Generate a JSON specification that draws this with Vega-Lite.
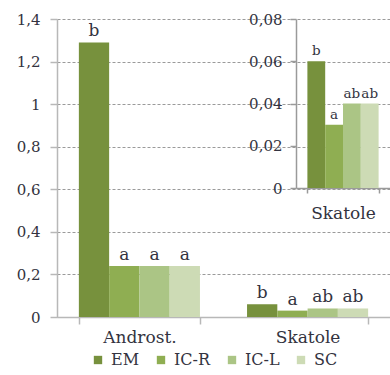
{
  "$schema": "https://vega.github.io/schema/vega-lite/v6.json",
  "width": 333,
  "height": 298,
  "autosize": "none",
  "padding": {"left": 57, "top": 19, "right": 0, "bottom": 58},
  "background": "white",
  "config": {
    "view": {"stroke": null},
    "font": "DejaVu Serif",
    "text": {"font": "DejaVu Serif"},
    "axis": {"labelFont": "DejaVu Serif", "labelColor": "#333340", "title": null, "domainColor": "#b8b8b8", "tickColor": "#b8b8b8", "domainWidth": 1.5, "tickWidth": 1.5},
    "legend": {"labelFont": "DejaVu Serif", "labelColor": "#333340"}
  },
  "datasets": {
    "main": [
      {"group": "Androst.", "series": "EM", "value": 1.29, "letter": "b"},
      {"group": "Androst.", "series": "IC-R", "value": 0.24, "letter": "a"},
      {"group": "Androst.", "series": "IC-L", "value": 0.24, "letter": "a"},
      {"group": "Androst.", "series": "SC", "value": 0.24, "letter": "a"},
      {"group": "Skatole", "series": "EM", "value": 0.06, "letter": "b"},
      {"group": "Skatole", "series": "IC-R", "value": 0.03, "letter": "a"},
      {"group": "Skatole", "series": "IC-L", "value": 0.04, "letter": "ab"},
      {"group": "Skatole", "series": "SC", "value": 0.04, "letter": "ab"}
    ],
    "inset": [
      {"group": "Skatole", "series": "EM", "value": 0.06, "letter": "b"},
      {"group": "Skatole", "series": "IC-R", "value": 0.03, "letter": "a"},
      {"group": "Skatole", "series": "IC-L", "value": 0.04, "letter": "ab"},
      {"group": "Skatole", "series": "SC", "value": 0.04, "letter": "ab"}
    ]
  },
  "layer": [
    {
      "data": {"name": "main"},
      "encoding": {
        "x": {"field": "group", "type": "nominal", "sort": ["Androst.", "Skatole"],
          "scale": {"paddingInner": 0.28, "paddingOuter": 0.13},
          "axis": {"labelAngle": 0, "labelFontSize": 17, "tickBand": "extent", "tickSize": 7, "labelPadding": 5}},
        "xOffset": {"field": "series", "type": "nominal", "sort": ["EM", "IC-R", "IC-L", "SC"], "scale": {"paddingInner": 0, "paddingOuter": 0}},
        "y": {"field": "value", "type": "quantitative",
          "scale": {"domain": [0, 1.4], "nice": false},
          "axis": {"values": [0, 0.2, 0.4, 0.6, 0.8, 1, 1.2, 1.4], "labelExpr": "replace(format(datum.value, '.1~f'), '.', ',')",
            "labelFontSize": 15, "labelPadding": 10, "tickSize": 7, "grid": true, "gridDash": [3, 2], "gridColor": "#9a9a9a", "gridWidth": 1}}
      },
      "layer": [
        {"mark": {"type": "bar"},
         "encoding": {"color": {"field": "series", "type": "nominal", "sort": ["EM", "IC-R", "IC-L", "SC"],
           "scale": {"domain": ["EM", "IC-R", "IC-L", "SC"], "range": ["#77913d", "#8fae52", "#abc585", "#cddbb5"]},
           "legend": {"title": null, "orient": "none", "legendX": 33, "legendY": 333, "direction": "horizontal",
             "symbolType": "square", "symbolSize": 70, "symbolStrokeWidth": 0, "labelFontSize": 16, "labelOffset": 5,
             "columnPadding": 13, "padding": 0}}}},
        {"mark": {"type": "text", "dy": -6, "baseline": "alphabetic", "fontSize": 17, "color": "#333340", "font": "DejaVu Serif"},
         "encoding": {"text": {"field": "letter"}}}
      ]
    },
    {
      "data": {"name": "inset"},
      "encoding": {
        "x": {"field": "group", "type": "nominal",
          "scale": {"range": [239, 333], "paddingInner": 0, "paddingOuter": 0.16},
          "axis": {"orient": "bottom", "offset": -129, "labelAngle": 0, "labelFontSize": 17, "tickBand": "extent", "tickSize": 5, "labelPadding": 12, "domainColor": "#9a9a9a", "tickColor": "#9a9a9a"}},
        "xOffset": {"field": "series", "type": "nominal", "sort": ["EM", "IC-R", "IC-L", "SC"], "scale": {"paddingInner": 0, "paddingOuter": 0}},
        "y": {"field": "value", "type": "quantitative",
          "scale": {"domain": [0, 0.08], "nice": false, "range": [169, 0]},
          "axis": {"orient": "left", "offset": -239, "values": [0, 0.02, 0.04, 0.06, 0.08], "labelExpr": "replace(format(datum.value, '.2~f'), '.', ',')",
            "labelFontSize": 15, "labelPadding": 8, "tickSize": 6, "grid": false, "domainColor": "#9a9a9a", "tickColor": "#9a9a9a"}}
      },
      "layer": [
        {"mark": {"type": "bar"},
         "encoding": {"color": {"field": "series", "type": "nominal", "sort": ["EM", "IC-R", "IC-L", "SC"], "legend": null}}},
        {"mark": {"type": "text", "dy": -6, "baseline": "alphabetic", "fontSize": 13.5, "color": "#333340", "font": "DejaVu Serif"},
         "encoding": {"text": {"field": "letter"}}}
      ]
    }
  ],
  "resolve": {"scale": {"x": "independent", "y": "independent", "xOffset": "independent"}, "axis": {"x": "independent", "y": "independent"}}
}
